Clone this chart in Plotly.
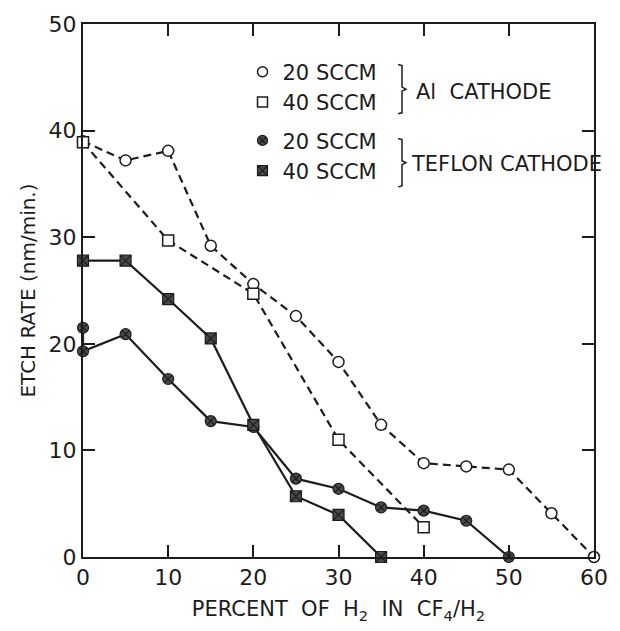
import plotly.graph_objects as go

# Etch rate vs. percent H2 in CF4/H2, for two cathode materials and two flow rates
al20_pct = [0, 5, 10, 15, 20, 25, 30, 35, 40, 45, 50, 55, 60]
al20_rate = [39.0, 37.2, 38.1, 29.2, 25.6, 22.6, 18.3, 12.4, 8.8, 8.5, 8.2, 4.1, 0.0]

al40_pct = [0, 10, 20, 30, 40]
al40_rate = [38.9, 29.7, 24.7, 11.0, 2.8]

tef20_pct = [0, 0, 5, 10, 15, 20, 25, 30, 35, 40, 45, 50]
tef20_rate = [21.5, 19.3, 20.9, 16.7, 12.75, 12.2, 7.35, 6.4, 4.65, 4.35, 3.4, 0.0]

tef40_pct = [0, 5, 10, 15, 20, 25, 30, 35]
tef40_rate = [27.8, 27.8, 24.2, 20.5, 12.4, 5.7, 3.95, 0.0]

x_ticks = [0, 10, 20, 30, 40, 50, 60]
y_ticks = [0, 10, 20, 30, 40, 50]

INK = "#1c1c1c"
FONT = "DejaVu Sans"

W, H = 620, 631
L, R, T, B = 83, 18, 17, 74


def px(x, y):
    """Pixel position -> paper coordinates."""
    return (x - L) / (W - L - R), (H - B - y) / (H - T - B)


series = [
    ("20 SCCM", "al", al20_pct, al20_rate, "circle", "white", "8px,5px", 1.5),
    ("40 SCCM", "al", al40_pct, al40_rate, "square", "white", "8px,5px", 1.5),
    ("20 SCCM", "tef", tef20_pct, tef20_rate, "circle-x", "#4a4a4a", "solid", 1.2),
    ("40 SCCM", "tef", tef40_pct, tef40_rate, "square-x", "#4a4a4a", "solid", 1.2),
]

fig = go.Figure()
for name, grp, xs, ys, sym, fill, dash, lw in series:
    fig.add_trace(go.Scatter(
        x=xs, y=ys, mode="lines+markers", showlegend=False,
        line=dict(color=INK, width=2.2, dash=dash),
        marker=dict(symbol=sym, size=11, color=fill,
                    line=dict(color=INK, width=lw)),
        cliponaxis=False,
    ))
    # marker-only legend entry
    fig.add_trace(go.Scatter(
        x=[None], y=[None], mode="markers", name=name, legendgroup=grp,
        marker=dict(symbol=sym, size=10, color=fill,
                    line=dict(color=INK, width=lw)),
    ))

axis_common = dict(
    showline=True, linecolor=INK, linewidth=2, mirror="ticks",
    ticks="inside", ticklen=12, tickwidth=2, tickcolor=INK,
    showgrid=False, zeroline=False,
    tickfont=dict(family=FONT, size=22, color=INK),
)

fig.update_xaxes(
    range=[0, 60], tickvals=x_ticks, ticktext=[str(v) for v in x_ticks],
    title=dict(text="PERCENT  OF  H<sub>2</sub>  IN  CF<sub>4</sub>/H<sub>2</sub>",
               font=dict(family=FONT, size=21, color=INK), standoff=12),
    **axis_common,
)
fig.update_yaxes(
    range=[0, 50], tickvals=y_ticks, ticktext=[str(v) for v in y_ticks],
    title=dict(text="ETCH RATE (nm/min.)",
               font=dict(family=FONT, size=20, color=INK), standoff=8),
    **axis_common,
)

# braces grouping the legend entries by cathode
shapes = []
for top, bot in [(58, 108), (133, 182)]:
    mid = (top + bot) / 2
    pts = [(403, top), (407, top + 1), (407, mid - 2), (411, mid),
           (407, mid + 2), (407, bot - 1), (403, bot)]
    path = "M " + " L ".join("{:.4f},{:.4f}".format(*px(a, b)) for a, b in pts)
    shapes.append(dict(type="path", path=path, xref="paper", yref="paper",
                       line=dict(color=INK, width=1.5)))

annotations = []
for text, xp, yp in [("Al  CATHODE", 419, 86), ("TEFLON CATHODE", 414, 159)]:
    ax, ay = px(xp, yp)
    annotations.append(dict(text=text, x=ax, y=ay, xref="paper", yref="paper",
                            xanchor="left", yanchor="middle", showarrow=False,
                            font=dict(family=FONT, size=21, color=INK)))

lx, ly = px(245, 45)
fig.update_layout(
    width=W, height=H,
    margin=dict(l=L, r=R, t=T, b=B),
    paper_bgcolor="white", plot_bgcolor="white",
    showlegend=True,
    legend=dict(x=lx, y=ly, xanchor="left", yanchor="top",
                font=dict(family=FONT, size=21, color=INK),
                bgcolor="rgba(0,0,0,0)", tracegroupgap=8,
                itemwidth=30, traceorder="grouped"),
    shapes=shapes, annotations=annotations,
)

fig.write_html("out.html")
